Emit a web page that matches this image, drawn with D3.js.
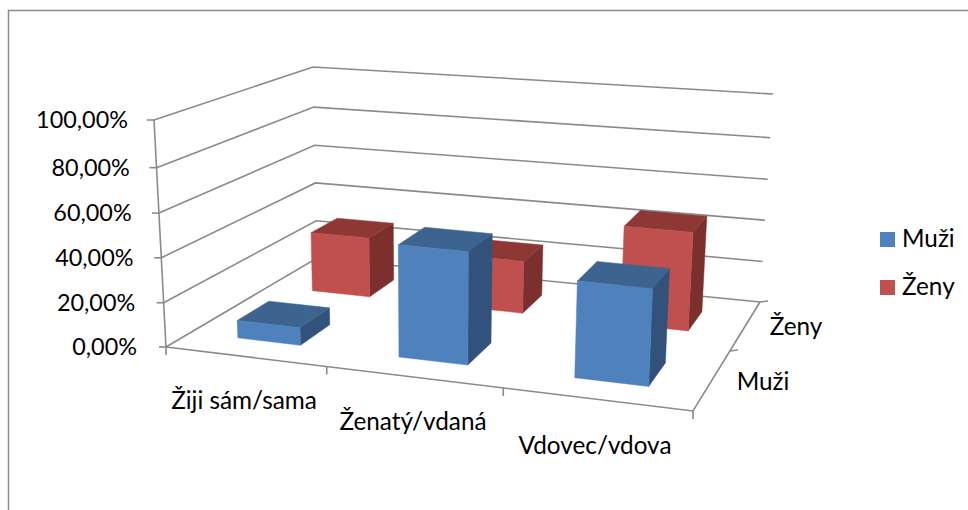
<!DOCTYPE html>
<html><head><meta charset="utf-8">
<script src="https://cdnjs.cloudflare.com/ajax/libs/d3/7.8.5/d3.min.js"></script>
<style>html,body{margin:0;padding:0;background:#fff}svg{display:block}text{font-family:Lato,"Open Sans",sans-serif;fill:#000}</style>
</head><body><div id="c"></div>
<script>
const categories = ["Žiji sám/sama", "Ženatý/vdaná", "Vdovec/vdova"];
const seriesNames = ["Muži", "Ženy"];
const muzi = [8, 50, 42];
const zeny = [29, 25, 46];
const valueTicks = [0, 20, 40, 60, 80, 100];
const tickLabels = ["0,00%", "20,00%", "40,00%", "60,00%", "80,00%", "100,00%"];
const frontColors = ["#4f81bd", "#c0504d"];
const topColors = ["#3d648f", "#8e3836"];
const sideColors = ["#32527b", "#7b302e"];

// Frame of the 3D box on screen: [x, y] of corners
const floorFL=[166,347], floorFR=[693,411], floorBL=[317,258], floorBR=[760,302];
const topFL=[154,120], topFR=[705,166], topBL=[313,67], topBR=[773,94];

const W=968,H=510;
const svg=d3.select("#c").append("svg").attr("width",W).attr("height",H);

// scales: boundaries are perspective-spaced along the box edges
const uScale=d3.scaleLinear().domain([0,1,2,3]).range([0,.305,.64,1]);
const vScale=d3.scaleLinear().domain([0,1,2]).range([0,.55,1]);
const wScale=d3.scaleLinear().domain(valueTicks).range([0,.195,.393,.59,.79,1]);
const lerp=(a,b,t)=>[a[0]+(b[0]-a[0])*t,a[1]+(b[1]-a[1])*t];
function P(c,s,val){
  const u=uScale(c),v=vScale(s),w=wScale(val);
  const f=lerp(lerp(floorFL,floorFR,u),lerp(floorBL,floorBR,u),v);
  const t=lerp(lerp(topFL,topFR,u),lerp(topBL,topBR,u),v);
  return lerp(f,t,w);
}
const line=d3.line();
const gray="#8a8a8a";
svg.append("path").attr("d",`M8.5,${H+2}V10.5H${W+2}`).attr("fill","none").attr("stroke",gray).attr("stroke-width",1.5);

const g=svg.append("g").attr("fill","none").attr("stroke",gray).attr("stroke-width",1.6);
// gridlines on both walls
valueTicks.forEach(t=>{
  g.append("path").attr("d",line([P(0,0,t),P(0,2,t),P(3,2,t)]));
  const a=P(0,0,t);
  g.append("path").attr("d",line([[a[0]-7,a[1]],a]));
});
// axes
g.append("path").attr("d",line([P(0,0,0),P(0,0,100)]));
g.append("path").attr("d",line([P(0,0,0),P(3,0,0),P(3,2,0)]));
d3.range(0,4).forEach(c=>{const a=P(c,0,0);g.append("path").attr("d",line([a,[a[0],a[1]+8]]));});
d3.range(1,3).forEach(s=>{const a=P(3,s,0);g.append("path").attr("d",line([a,[a[0]+8,a[1]-1]]));});

// bars
const barFrac=.4;
function drawBar(c,s,val){
  const c0=c+.5-barFrac/2,c1=c+.5+barFrac/2,s0=s+.5-barFrac/2,s1=s+.5+barFrac/2;
  const gb=svg.append("g");
  const poly=(pts,col)=>gb.append("path").attr("d",line(pts)+"Z").attr("fill",col).attr("stroke",col).attr("stroke-width",.5);
  poly([P(c1,s0,0),P(c1,s1,0),P(c1,s1,val),P(c1,s0,val)],sideColors[s]);
  poly([P(c0,s0,val),P(c1,s0,val),P(c1,s1,val),P(c0,s1,val)],topColors[s]);
  poly([P(c0,s0,0),P(c1,s0,0),P(c1,s0,val),P(c0,s0,val)],frontColors[s]);
}
[zeny,muzi].forEach(arr=>{
  const s=arr===muzi?0:1;
  arr.forEach((val,c)=>drawBar(c,s,val));
});

// labels
const fs=24.3;
const T=(x,y,s,anchor,size)=>svg.append("text").attr("x",x).attr("y",y).attr("font-size",size||fs).attr("text-anchor",anchor||"start").text(s);
valueTicks.forEach((t,i)=>{const a=P(0,0,t);T(128+(a[0]-154)*.75,a[1]+8,tickLabels[i],"end",23.4);});
const catX=[244,413,595],catY=[409,430,454];
categories.forEach((n,i)=>T(catX[i],catY[i],n,"middle"));
const serX=[763,796],serY=[390,335];
seriesNames.forEach((n,i)=>T(serX[i],serY[i],n,"middle"));
// legend
const legY=[239.5,287.5];
seriesNames.forEach((n,i)=>{
  svg.append("rect").attr("x",880).attr("y",legY[i]-7.5).attr("width",15).attr("height",15).attr("fill",frontColors[i]);
  T(902,legY[i]+7.5,n);
});
</script></body></html>
